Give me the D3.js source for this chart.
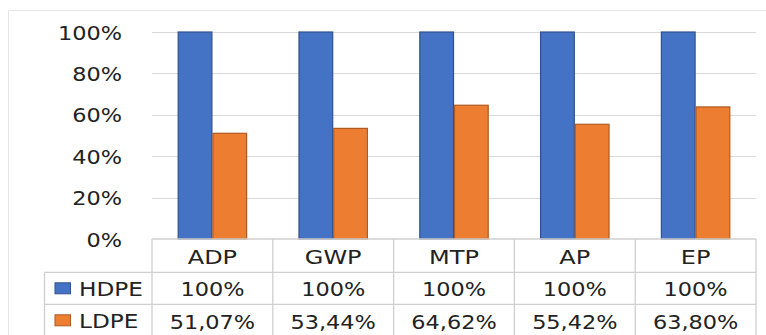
<!DOCTYPE html>
<html><head><meta charset="utf-8">
<script src="https://cdn.jsdelivr.net/npm/d3@7"></script>
<style>body{margin:0;background:#fff}svg{display:block}</style>
</head><body>
<svg id="c" width="766" height="335"></svg>
<script>
const categories = ["ADP","GWP","MTP","AP","EP"];
const seriesNames = ["HDPE","LDPE"];
const hdpe = [100,100,100,100,100];
const ldpe = [51.07,53.44,64.62,55.42,63.80];
const hdpeLabels = ["100%","100%","100%","100%","100%"];
const ldpeLabels = ["51,07%","53,44%","64,62%","55,42%","63,80%"];
const yTicks = [0,20,40,60,80,100];
const colors = ["#4472C4","#ED7D31"];
const strokes = ["#2F528F","#AE5A21"];

const svg = d3.select("#c");
const L = 152, R = 756, T = 32, B = 239;
const tableL = 44.5, row1 = 272.3, row2 = 304.3;
const textCol = "#222";
const font = "DejaVu Sans, Verdana, sans-serif";
const sxNum = 1.12, sxTxt = 1.2;

// outer frame
svg.append("line").attr("x1",8.5).attr("x2",766).attr("y1",10.5).attr("y2",10.5).attr("stroke","#e6e6e6");
svg.append("line").attr("x1",8.5).attr("x2",8.5).attr("y1",10.5).attr("y2",335).attr("stroke","#e6e6e6");

const x0 = d3.scaleBand().domain(categories).range([L,R]).padding(0);
const x1 = d3.scaleBand().domain(seriesNames).range([0,x0.bandwidth()]).paddingInner(0).paddingOuter(0.74);
const y = d3.scaleLinear().domain([0,100]).range([B,T]);

// gridlines
svg.append("g").selectAll("line").data(yTicks.filter(d=>d>0)).join("line")
  .attr("x1",L).attr("x2",R).attr("y1",d=>Math.round(y(d))+0.5).attr("y2",d=>Math.round(y(d))+0.5)
  .attr("stroke","#d9d9d9").attr("stroke-width",1.2);

// y labels
const yAxis = d3.axisLeft(y).tickValues(yTicks).tickFormat(d=>d+"%").tickSize(0).tickPadding(0);
const ya = svg.append("g").call(yAxis);
ya.select(".domain").remove();
ya.selectAll(".tick").attr("transform",d=>`translate(0,${y(d)+0.5})`);
ya.selectAll(".tick text").attr("x",0).attr("dy",null).attr("y",0).attr("dominant-baseline","central")
  .attr("transform",`translate(122,0) scale(${sxNum},1)`)
  .attr("font-family",font).attr("font-size",20).attr("fill",textCol).attr("text-anchor","end");

// bars
const data = categories.map((c,i)=>({cat:c, vals:[hdpe[i], ldpe[i]]}));
const groups = svg.append("g").selectAll("g").data(data).join("g")
  .attr("transform",d=>`translate(${x0(d.cat)},0)`);
groups.selectAll("rect").data(d=>d.vals.map((v,j)=>({v, s:seriesNames[j], j})))
  .join("rect")
  .attr("x",d=>x1(d.s)+0.5).attr("width",x1.bandwidth()-1)
  .attr("y",d=>y(d.v)).attr("height",d=>B-y(d.v))
  .attr("fill",d=>colors[d.j]).attr("stroke",d=>strokes[d.j]).attr("stroke-width",1.2);

// table lines
const lc = "#cfcfcf";
const tl = svg.append("g").attr("stroke",lc).attr("stroke-width",1.3);
tl.append("line").attr("x1",L).attr("x2",R).attr("y1",B).attr("y2",B);
tl.append("line").attr("x1",tableL).attr("x2",R).attr("y1",row1).attr("y2",row1);
tl.append("line").attr("x1",tableL).attr("x2",R).attr("y1",row2).attr("y2",row2);
tl.append("line").attr("x1",tableL).attr("x2",tableL).attr("y1",row1).attr("y2",335);
tl.selectAll(".v").data(categories.concat(["_end"])).join("line")
  .attr("x1",(d,i)=>L+i*x0.step()).attr("x2",(d,i)=>L+i*x0.step())
  .attr("y1",B).attr("y2",335);

function label(g, x, yy, txt, sx, anchor){
  g.append("text").attr("transform",`translate(${x},${yy}) scale(${sx},1)`)
   .attr("text-anchor",anchor||"middle").attr("font-family",font).attr("font-size",20)
   .attr("fill",textCol).text(txt);
}
const tg = svg.append("g");
categories.forEach((c,i)=>{
  const cx = x0(c)+x0.bandwidth()/2;
  label(tg, cx, 263.5, c, sxTxt);
  label(tg, cx, 296, hdpeLabels[i], sxNum);
  label(tg, cx, 328.5, ldpeLabels[i], sxNum);
});
// legend rows
[ [288.3, 0], [320.3, 1] ].forEach(([cy,j])=>{
  tg.append("rect").attr("x",55).attr("y",cy-5.5).attr("width",15.5).attr("height",11)
    .attr("fill",colors[j]).attr("stroke",strokes[j]).attr("stroke-width",1);
  label(tg, 79, cy+7.5, seriesNames[j], 1.16, "start");
});
</script>
</body></html>
